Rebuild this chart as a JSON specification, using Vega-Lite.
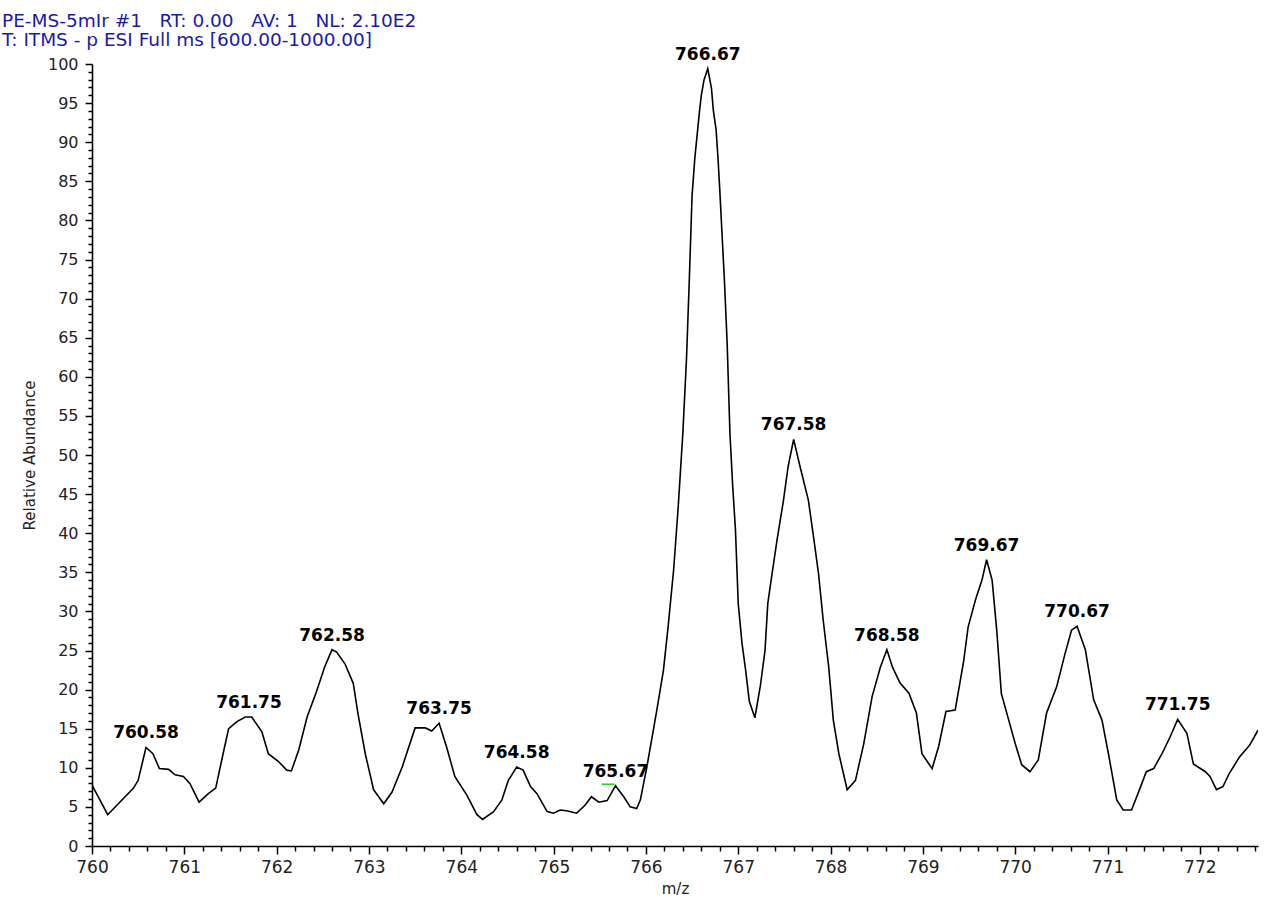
{
  "$schema": "https://vega.github.io/schema/vega-lite/v6.json",
  "width": 1166,
  "height": 782,
  "autosize": "none",
  "padding": {"left": 92, "top": 64, "right": 8, "bottom": 56},
  "background": "white",
  "config": {"view": {"stroke": null}},
  "title": {
    "text": ["PE-MS-5mIr #1\u00a0\u00a0\u00a0RT: 0.00\u00a0\u00a0\u00a0AV: 1\u00a0\u00a0\u00a0NL: 2.10E2", "T: ITMS - p ESI Full ms [600.00-1000.00]"],
    "anchor": "start",
    "frame": "group",
    "dx": -90,
    "dy": 8,
    "font": "DejaVu Sans",
    "fontSize": 18.5,
    "fontWeight": "normal",
    "color": "#1a1aa8",
    "lineHeight": 19,
    "offset": 4
  },
  "datasets": {
    "spectrum": [
      {"mz": 760.00, "ab": 7.8}, {"mz": 760.17, "ab": 4.0}, {"mz": 760.45, "ab": 7.4}, {"mz": 760.50, "ab": 8.4},
      {"mz": 760.585, "ab": 12.6}, {"mz": 760.66, "ab": 11.8}, {"mz": 760.73, "ab": 9.9}, {"mz": 760.83, "ab": 9.8},
      {"mz": 760.90, "ab": 9.1}, {"mz": 760.99, "ab": 8.9}, {"mz": 761.06, "ab": 8.0}, {"mz": 761.16, "ab": 5.6},
      {"mz": 761.26, "ab": 6.7}, {"mz": 761.34, "ab": 7.4}, {"mz": 761.42, "ab": 11.8}, {"mz": 761.48, "ab": 15.0},
      {"mz": 761.57, "ab": 15.9}, {"mz": 761.66, "ab": 16.5}, {"mz": 761.73, "ab": 16.5}, {"mz": 761.84, "ab": 14.6},
      {"mz": 761.91, "ab": 11.8}, {"mz": 762.02, "ab": 10.8}, {"mz": 762.11, "ab": 9.7}, {"mz": 762.16, "ab": 9.6},
      {"mz": 762.24, "ab": 12.3}, {"mz": 762.33, "ab": 16.5}, {"mz": 762.43, "ab": 19.7}, {"mz": 762.52, "ab": 22.9},
      {"mz": 762.60, "ab": 25.1}, {"mz": 762.65, "ab": 24.8}, {"mz": 762.74, "ab": 23.3}, {"mz": 762.83, "ab": 20.8},
      {"mz": 762.88, "ab": 17.0}, {"mz": 762.96, "ab": 11.8}, {"mz": 763.05, "ab": 7.2}, {"mz": 763.16, "ab": 5.4},
      {"mz": 763.25, "ab": 6.9}, {"mz": 763.36, "ab": 10.1}, {"mz": 763.50, "ab": 15.1}, {"mz": 763.61, "ab": 15.1},
      {"mz": 763.68, "ab": 14.7}, {"mz": 763.76, "ab": 15.7}, {"mz": 763.84, "ab": 12.7}, {"mz": 763.93, "ab": 8.9},
      {"mz": 764.06, "ab": 6.5}, {"mz": 764.17, "ab": 4.0}, {"mz": 764.23, "ab": 3.4}, {"mz": 764.35, "ab": 4.4},
      {"mz": 764.44, "ab": 5.9}, {"mz": 764.51, "ab": 8.4}, {"mz": 764.60, "ab": 10.1}, {"mz": 764.67, "ab": 9.7},
      {"mz": 764.75, "ab": 7.6}, {"mz": 764.82, "ab": 6.7}, {"mz": 764.93, "ab": 4.4}, {"mz": 765.00, "ab": 4.2},
      {"mz": 765.07, "ab": 4.6}, {"mz": 765.14, "ab": 4.5}, {"mz": 765.25, "ab": 4.2}, {"mz": 765.34, "ab": 5.2},
      {"mz": 765.41, "ab": 6.3}, {"mz": 765.49, "ab": 5.6}, {"mz": 765.58, "ab": 5.8}, {"mz": 765.67, "ab": 7.7},
      {"mz": 765.76, "ab": 6.3}, {"mz": 765.83, "ab": 5.0}, {"mz": 765.90, "ab": 4.8}, {"mz": 765.94, "ab": 5.9},
      {"mz": 766.01, "ab": 10.1}, {"mz": 766.08, "ab": 14.8}, {"mz": 766.12, "ab": 17.5}, {"mz": 766.19, "ab": 22.5},
      {"mz": 766.24, "ab": 28.0}, {"mz": 766.30, "ab": 35.3}, {"mz": 766.35, "ab": 43.4}, {"mz": 766.40, "ab": 52.8},
      {"mz": 766.44, "ab": 62.4}, {"mz": 766.47, "ab": 72.4}, {"mz": 766.50, "ab": 83.2}, {"mz": 766.53, "ab": 88.0},
      {"mz": 766.58, "ab": 93.9}, {"mz": 766.60, "ab": 96.0}, {"mz": 766.63, "ab": 98.0}, {"mz": 766.67, "ab": 99.4},
      {"mz": 766.71, "ab": 96.9}, {"mz": 766.73, "ab": 94.1}, {"mz": 766.76, "ab": 91.6}, {"mz": 766.78, "ab": 88.1},
      {"mz": 766.80, "ab": 83.9}, {"mz": 766.83, "ab": 77.0}, {"mz": 766.85, "ab": 72.4}, {"mz": 766.88, "ab": 64.3},
      {"mz": 766.91, "ab": 52.8}, {"mz": 766.94, "ab": 46.0}, {"mz": 766.97, "ab": 40.4}, {"mz": 767.00, "ab": 31.0},
      {"mz": 767.04, "ab": 26.0}, {"mz": 767.08, "ab": 22.5}, {"mz": 767.12, "ab": 18.5}, {"mz": 767.18, "ab": 16.4},
      {"mz": 767.24, "ab": 20.5}, {"mz": 767.29, "ab": 25.0}, {"mz": 767.32, "ab": 31.0}, {"mz": 767.35, "ab": 33.5},
      {"mz": 767.42, "ab": 39.1}, {"mz": 767.49, "ab": 44.2}, {"mz": 767.54, "ab": 48.5}, {"mz": 767.60, "ab": 52.0},
      {"mz": 767.67, "ab": 48.5}, {"mz": 767.76, "ab": 44.2}, {"mz": 767.81, "ab": 40.0}, {"mz": 767.87, "ab": 34.8},
      {"mz": 767.92, "ab": 28.9}, {"mz": 767.98, "ab": 22.9}, {"mz": 768.03, "ab": 16.1}, {"mz": 768.09, "ab": 11.8},
      {"mz": 768.18, "ab": 7.2}, {"mz": 768.27, "ab": 8.4}, {"mz": 768.36, "ab": 13.1}, {"mz": 768.45, "ab": 19.1},
      {"mz": 768.54, "ab": 22.9}, {"mz": 768.61, "ab": 25.1}, {"mz": 768.67, "ab": 22.9}, {"mz": 768.75, "ab": 20.9},
      {"mz": 768.85, "ab": 19.5}, {"mz": 768.93, "ab": 17.0}, {"mz": 768.99, "ab": 11.8}, {"mz": 769.10, "ab": 9.9},
      {"mz": 769.17, "ab": 12.7}, {"mz": 769.25, "ab": 17.2}, {"mz": 769.35, "ab": 17.4}, {"mz": 769.44, "ab": 23.5},
      {"mz": 769.49, "ab": 28.0}, {"mz": 769.57, "ab": 31.5}, {"mz": 769.64, "ab": 34.0}, {"mz": 769.69, "ab": 36.6},
      {"mz": 769.75, "ab": 34.0}, {"mz": 769.80, "ab": 27.6}, {"mz": 769.85, "ab": 19.5}, {"mz": 769.93, "ab": 16.1},
      {"mz": 770.00, "ab": 13.1}, {"mz": 770.07, "ab": 10.4}, {"mz": 770.16, "ab": 9.5}, {"mz": 770.25, "ab": 11.0},
      {"mz": 770.34, "ab": 17.0}, {"mz": 770.45, "ab": 20.4}, {"mz": 770.54, "ab": 24.6}, {"mz": 770.61, "ab": 27.6},
      {"mz": 770.67, "ab": 28.1}, {"mz": 770.76, "ab": 25.1}, {"mz": 770.85, "ab": 18.7}, {"mz": 770.94, "ab": 16.1},
      {"mz": 771.01, "ab": 11.8}, {"mz": 771.10, "ab": 5.9}, {"mz": 771.17, "ab": 4.6}, {"mz": 771.26, "ab": 4.6},
      {"mz": 771.33, "ab": 6.7}, {"mz": 771.42, "ab": 9.5}, {"mz": 771.50, "ab": 9.9}, {"mz": 771.59, "ab": 11.8},
      {"mz": 771.68, "ab": 14.0}, {"mz": 771.76, "ab": 16.2}, {"mz": 771.86, "ab": 14.4}, {"mz": 771.93, "ab": 10.5},
      {"mz": 772.06, "ab": 9.5}, {"mz": 772.11, "ab": 8.9}, {"mz": 772.18, "ab": 7.2}, {"mz": 772.25, "ab": 7.6},
      {"mz": 772.32, "ab": 9.3}, {"mz": 772.43, "ab": 11.4}, {"mz": 772.54, "ab": 12.9}, {"mz": 772.63, "ab": 14.8}
    ],
    "peaks": [
      {"mz": 760.585, "ab": 12.6, "label": "760.58"},
      {"mz": 761.70, "ab": 16.5, "label": "761.75"},
      {"mz": 762.60, "ab": 25.1, "label": "762.58"},
      {"mz": 763.76, "ab": 15.7, "label": "763.75"},
      {"mz": 764.60, "ab": 10.1, "label": "764.58"},
      {"mz": 765.67, "ab": 7.7, "label": "765.67"},
      {"mz": 766.67, "ab": 99.4, "label": "766.67"},
      {"mz": 767.60, "ab": 52.0, "label": "767.58"},
      {"mz": 768.61, "ab": 25.1, "label": "768.58"},
      {"mz": 769.69, "ab": 36.6, "label": "769.67"},
      {"mz": 770.67, "ab": 28.1, "label": "770.67"},
      {"mz": 771.76, "ab": 16.2, "label": "771.75"}
    ],
    "marker": [
      {"mz": 765.52, "mz2": 765.66, "ab": 7.9}
    ]
  },
  "layer": [
    {
      "data": {"name": "spectrum"},
      "mark": {"type": "line", "color": "black", "strokeWidth": 1.6, "clip": true},
      "encoding": {
        "x": {
          "field": "mz", "type": "quantitative",
          "scale": {"domain": [760, 772.63], "nice": false, "zero": false},
          "axis": {
            "title": "m/z",
            "titleFont": "DejaVu Sans", "titleFontSize": 15, "titleFontWeight": "normal", "titleColor": "#222", "titlePadding": 6,
            "tickCount": 500,
            "values": [760, 760.2, 760.4, 760.6, 760.8, 761, 761.2, 761.4, 761.6, 761.8, 762, 762.2, 762.4, 762.6, 762.8, 763, 763.2, 763.4, 763.6, 763.8, 764, 764.2, 764.4, 764.6, 764.8, 765, 765.2, 765.4, 765.6, 765.8, 766, 766.2, 766.4, 766.6, 766.8, 767, 767.2, 767.4, 767.6, 767.8, 768, 768.2, 768.4, 768.6, 768.8, 769, 769.2, 769.4, 769.6, 769.8, 770, 770.2, 770.4, 770.6, 770.8, 771, 771.2, 771.4, 771.6, 771.8, 772, 772.2, 772.4, 772.6],
            "labelExpr": "abs(datum.value - round(datum.value)) < 0.001 ? format(datum.value, 'd') : ''",
            "labelOverlap": false,
            "labelFlush": false,
            "labelFont": "DejaVu Sans", "labelFontSize": 17, "labelColor": "#222", "labelPadding": 5,
            "tickSize": {"condition": {"test": "abs(datum.value - round(datum.value)) < 0.001", "value": 8}, "value": 5},
            "tickColor": "black", "tickWidth": 1.5,
            "domainColor": "black", "domainWidth": 1.6,
            "grid": false
          }
        },
        "y": {
          "field": "ab", "type": "quantitative",
          "scale": {"domain": [0, 100], "nice": false},
          "axis": {
            "title": "Relative Abundance",
            "titleFont": "DejaVu Sans", "titleFontSize": 15, "titleFontWeight": "normal", "titleColor": "#222", "titlePadding": 10,
            "tickCount": 500,
            "values": [0,1,2,3,4,5,6,7,8,9,10,11,12,13,14,15,16,17,18,19,20,21,22,23,24,25,26,27,28,29,30,31,32,33,34,35,36,37,38,39,40,41,42,43,44,45,46,47,48,49,50,51,52,53,54,55,56,57,58,59,60,61,62,63,64,65,66,67,68,69,70,71,72,73,74,75,76,77,78,79,80,81,82,83,84,85,86,87,88,89,90,91,92,93,94,95,96,97,98,99,100],
            "labelExpr": "datum.value % 5 === 0 ? format(datum.value, 'd') : ''",
            "labelOverlap": false,
            "labelFlush": false,
            "labelFont": "DejaVu Sans", "labelFontSize": 16, "labelColor": "#222", "labelPadding": 7,
            "tickSize": {"condition": {"test": "datum.value % 5 === 0", "value": 7}, "value": 4},
            "tickColor": "black", "tickWidth": 1.5,
            "domainColor": "black", "domainWidth": 1.6,
            "grid": false
          }
        }
      }
    },
    {
      "data": {"name": "marker"},
      "mark": {"type": "rule", "color": "#22cc22", "strokeWidth": 1.5},
      "encoding": {
        "x": {"field": "mz", "type": "quantitative"},
        "x2": {"field": "mz2"},
        "y": {"field": "ab", "type": "quantitative"}
      }
    },
    {
      "data": {"name": "peaks"},
      "mark": {"type": "text", "font": "DejaVu Sans", "fontSize": 17, "fontWeight": "bold", "color": "black", "baseline": "bottom", "align": "center", "dy": -5},
      "encoding": {
        "x": {"field": "mz", "type": "quantitative"},
        "y": {"field": "ab", "type": "quantitative"},
        "text": {"field": "label"}
      }
    }
  ]
}
